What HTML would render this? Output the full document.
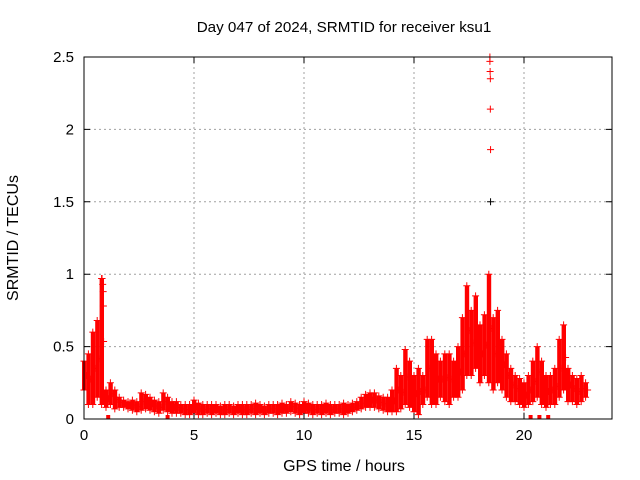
<!DOCTYPE html>
<html><head><meta charset="utf-8"><style>
body{margin:0;background:#fff;}
svg{display:block;font-family:"Liberation Sans",sans-serif;}
</style></head><body>
<svg id="chart" width="640" height="480">
<text x="344" y="32" text-anchor="middle" font-size="15.2">Day 047 of 2024, SRMTID for receiver ksu1</text>
<text x="344" y="471" text-anchor="middle" font-size="16">GPS time / hours</text>
<text x="18" y="238" text-anchor="middle" font-size="16" transform="rotate(-90 18 238)">SRMTID / TECUs</text>
<g id="grid"></g><g id="marks"></g><g id="axes"></g>
</svg>
<script>
const times=[0,0.2,0.4,0.6,0.8,1.0,1.2,1.4,1.6,1.8,2.0,2.2,2.4,2.6,2.8,3.0,3.2,3.4,3.6,3.8,4.0,4.2,4.4,4.6,4.8,5.0,5.2,5.4,5.6,5.8,6.0,6.2,6.4,6.6,6.8,7.0,7.2,7.4,7.6,7.8,8.0,8.2,8.4,8.6,8.8,9.0,9.2,9.4,9.6,9.8,10.0,10.2,10.4,10.6,10.8,11.0,11.2,11.4,11.6,11.8,12.0,12.2,12.4,12.6,12.8,13.0,13.2,13.4,13.6,13.8,14.0,14.2,14.4,14.6,14.8,15.0,15.2,15.4,15.6,15.8,16.0,16.2,16.4,16.6,16.8,17.0,17.2,17.4,17.6,17.8,18.0,18.2,18.4,18.6,18.8,19.0,19.2,19.4,19.6,19.8,20.0,20.2,20.4,20.6,20.8,21.0,21.2,21.4,21.6,21.8,22.0,22.2,22.4,22.6,22.8];
const lowVals=[0.2,0.1,0.1,0.15,0.1,0.08,0.1,0.07,0.08,0.08,0.07,0.06,0.05,0.06,0.07,0.06,0.05,0.04,0.06,0.05,0.04,0.04,0.04,0.03,0.03,0.04,0.03,0.03,0.04,0.03,0.04,0.03,0.03,0.04,0.03,0.04,0.03,0.03,0.04,0.03,0.04,0.03,0.04,0.04,0.03,0.04,0.04,0.05,0.04,0.03,0.04,0.04,0.03,0.04,0.03,0.04,0.03,0.04,0.04,0.03,0.04,0.05,0.06,0.07,0.08,0.08,0.08,0.07,0.06,0.05,0.05,0.05,0.07,0.1,0.08,0.05,0.03,0.1,0.15,0.1,0.1,0.15,0.12,0.1,0.15,0.15,0.2,0.3,0.3,0.35,0.25,0.3,0.25,0.2,0.25,0.2,0.15,0.12,0.12,0.1,0.08,0.1,0.12,0.15,0.1,0.08,0.1,0.1,0.15,0.2,0.12,0.12,0.1,0.12,0.15];
const highVals=[0.4,0.45,0.6,0.68,0.97,0.2,0.25,0.2,0.15,0.13,0.12,0.13,0.12,0.18,0.17,0.15,0.13,0.12,0.18,0.15,0.12,0.12,0.1,0.1,0.1,0.13,0.11,0.1,0.1,0.1,0.1,0.09,0.1,0.1,0.09,0.1,0.1,0.1,0.1,0.11,0.1,0.09,0.1,0.1,0.1,0.11,0.1,0.12,0.11,0.1,0.12,0.11,0.1,0.1,0.1,0.11,0.1,0.1,0.1,0.11,0.1,0.11,0.12,0.15,0.17,0.18,0.18,0.16,0.15,0.15,0.2,0.35,0.3,0.48,0.4,0.3,0.35,0.3,0.55,0.55,0.45,0.4,0.45,0.45,0.4,0.5,0.7,0.92,0.75,0.85,0.65,0.72,1.0,0.7,0.75,0.55,0.45,0.35,0.3,0.28,0.25,0.3,0.4,0.5,0.4,0.3,0.3,0.35,0.55,0.65,0.35,0.3,0.28,0.3,0.25];
const spikeTimes=[0.82,0.85,0.87,0.88,18.45,18.45,18.46,18.47,18.47,18.48,18.48];
const spikeVals=[0.97,0.93,0.88,0.78,2.5,2.47,2.4,2.35,2.14,1.86,1.5];
const zeroTimes=[1.1,3.8,20.3,20.7,21.1];
const xTicks=[0,5,10,15,20];
const yTicks=[0,0.5,1,1.5,2,2.5];
const yTickLabels=["0","0.5","1","1.5","2","2.5"];

const X0=84,X1=612,Y0=419,Y1=57;
const xs=t=>X0+(t/24)*(X1-X0);
const ys=v=>Y0-(v/2.5)*(Y0-Y1);
const NS="http://www.w3.org/2000/svg";
function mk(tag,attrs,parent){const e=document.createElementNS(NS,tag);for(const k in attrs)e.setAttribute(k,attrs[k]);parent.appendChild(e);return e;}
const grid=document.getElementById('grid'),marks=document.getElementById('marks'),axes=document.getElementById('axes');
xTicks.forEach((t,i)=>{
  if(t>0){const l=mk('line',{x1:xs(t),x2:xs(t),y1:Y1,y2:Y0,stroke:'#a0a0a0','stroke-dasharray':'2,3'},grid);
  
  }
  const tk=mk('path',{d:`M${xs(t)},${Y0}v-6M${xs(t)},${Y1}v6`,stroke:'#000'},axes);
  
  
  const tx=mk('text',{x:xs(t),y:Y0+21,'text-anchor':'middle','font-size':'15'},axes);tx.textContent=String(t);
  
  
});
yTicks.forEach((v,i)=>{
  if(v>0&&v<2.5){const l=mk('line',{x1:X0,x2:X1,y1:ys(v),y2:ys(v),stroke:'#a0a0a0','stroke-dasharray':'2,3'},grid);
  
  }
  const tk=mk('path',{d:`M${X0},${ys(v)}h6M${X1},${ys(v)}h-6`,stroke:'#000'},axes);
  
  
  const tx=mk('text',{x:X0-10,y:ys(v)+5,'text-anchor':'end','font-size':'15'},axes);tx.textContent=yTickLabels[i];
  
  
});
const frame=mk('rect',{x:X0,y:Y1,width:X1-X0,height:Y0-Y1,fill:'none',stroke:'#000'},axes);


function plus(x,y,c){const p=mk('path',{d:`M${x-3.5},${y}h7M${x},${y-3.5}v7`,stroke:c,'stroke-width':'1'},marks);

}
times.forEach((t,i)=>{
  const x=xs(t),yl=ys(lowVals[i]),yh=ys(highVals[i]);
  const r=mk('rect',{x:x-2,y:yh,width:Math.max(4.4,(xs(0.2)-xs(0))*0.7),height:Math.max(1,yl-yh),fill:'#ff0000'},marks);
  
  
  plus(x,yl,'#ff0000');plus(x,yh,'#ff0000');
  plus(x+2,(yl+yh)/2,'#ff0000');
});
spikeTimes.forEach((t,i)=>{plus(xs(t),ys(spikeVals[i]),spikeVals[i]===1.5?'#000':'#ff0000');});
zeroTimes.forEach(t=>{const r=mk('rect',{x:xs(t)-2,y:Y0-4,width:4,height:4,fill:'#ff0000'},marks);

});
</script>
</body></html>
